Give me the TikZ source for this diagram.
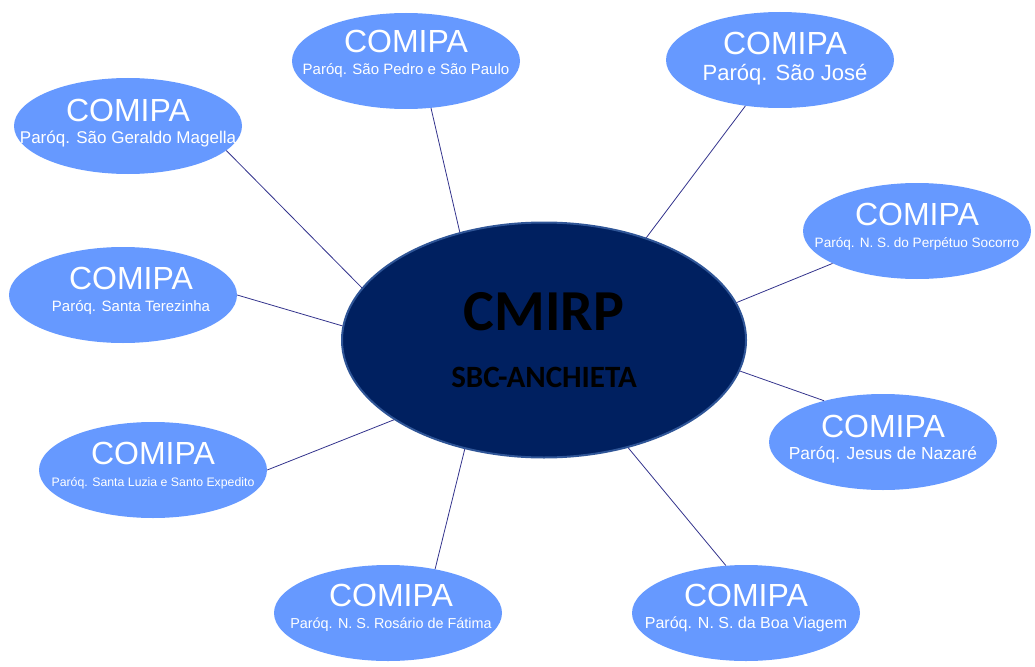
\documentclass[tikz,border=0pt]{standalone}
\usepackage{fontspec}
\setmainfont{Liberation Sans}
\newfontfamily\calibri{Carlito}
\usepackage{tikz}
\usetikzlibrary{shapes.geometric, positioning, calc}
\definecolor{navy}{RGB}{0, 32, 96}
\definecolor{navyedge}{RGB}{47, 85, 151}
\definecolor{parishblue}{RGB}{102, 153, 255}
\definecolor{linkblue}{RGB}{51, 51, 140}
\tikzset{
    hub/.style={ellipse, minimum width=404pt, minimum height=235pt, inner sep=0pt, align=center, draw=navyedge, line width=2pt, fill=navy, text=black, font=\calibri\bfseries},
    parish/.style={ellipse, minimum width=228pt, minimum height=96pt, inner sep=0pt, fill=parishblue},
    parishtext/.style={align=center, text=white, inner sep=0pt, font=\fontsize{32}{22}\selectfont},
    link/.style={line width=0.8pt, linkblue}
}
\newcommand{\sub}[2]{{\fontsize{#1}{#1}\selectfont #2}}
\begin{document}
\begin{tikzpicture}[x=1pt, y=-1pt]
    \useasboundingbox (0,0) rectangle (1035,666);
    \node[hub] (cmirp) at (544, 340) {{\fontsize{58}{58}\selectfont CMIRP}\\[36pt]{\fontsize{31}{31}\selectfont SBC-ANCHIETA}};
    % parish ellipses
    \node[parish] (pedro) at (406, 61) {};
    \node[parish] (jose) at (780, 60) {};
    \node[parish] (geraldo) at (128, 126) {};
    \node[parish] (socorro) at (917, 231) {};
    \node[parish] (terezinha) at (123, 295) {};
    \node[parish] (nazare) at (883, 442) {};
    \node[parish] (luzia) at (153, 470) {};
    \node[parish] (fatima) at (388, 613) {};
    \node[parish] (viagem) at (746, 613) {};
    % parish labels
    \node[parishtext] (pedro-t) at ([yshift=7pt]pedro.center) {COMIPA\\\sub{15}{Paróq. São Pedro e São Paulo}};
    \node[parishtext] (jose-t) at ([xshift=5pt, yshift=1pt]jose.center) {COMIPA\\[4pt]\sub{22}{Paróq. São José}};
    \node[parishtext] (geraldo-t) at ([yshift=3pt]geraldo.center) {COMIPA\\\sub{17}{Paróq. São Geraldo Magella}};
    \node[parishtext] (socorro-t) at ([yshift=4pt]socorro.center) {COMIPA\\\sub{13.6}{Paróq. N. S. do Perpétuo Socorro}};
    \node[parishtext] (terezinha-t) at ([xshift=8pt, yshift=4pt]terezinha.center) {COMIPA\\\sub{15}{Paróq. Santa Terezinha}};
    \node[parishtext] (nazare-t) at ([yshift=3pt]nazare.center) {COMIPA\\\sub{17.4}{Paróq. Jesus de Nazaré}};
    \node[parishtext] (luzia-t) at ([yshift=4pt]luzia.center) {COMIPA\\\sub{12.3}{Paróq. Santa Luzia e Santo Expedito}};
    \node[parishtext] (fatima-t) at ([xshift=3pt, yshift=5pt]fatima.center) {COMIPA\\\sub{14.4}{Paróq. N. S. Rosário de Fátima}};
    \node[parishtext] (viagem-t) at ([yshift=5pt]viagem.center) {COMIPA\\\sub{16}{Paróq. N. S. da Boa Viagem}};
    % links to the hub
    \draw[link] (cmirp.128) -- (pedro.-62);
    \draw[link] (cmirp.45) -- (jose.-127);
    \draw[link] (cmirp.164) -- (geraldo.-14);
    \draw[link] (cmirp.11) -- (socorro.201);
    \draw[link] (cmirp.176) -- (terezinha.0);
    \draw[link] (cmirp.-9) -- (nazare.145);
    \draw[link] (cmirp.208) -- (luzia.0);
    \draw[link] (cmirp.234) -- (fatima.43);
    \draw[link] (cmirp.-52) -- (viagem.113);
\end{tikzpicture}
\end{document}
